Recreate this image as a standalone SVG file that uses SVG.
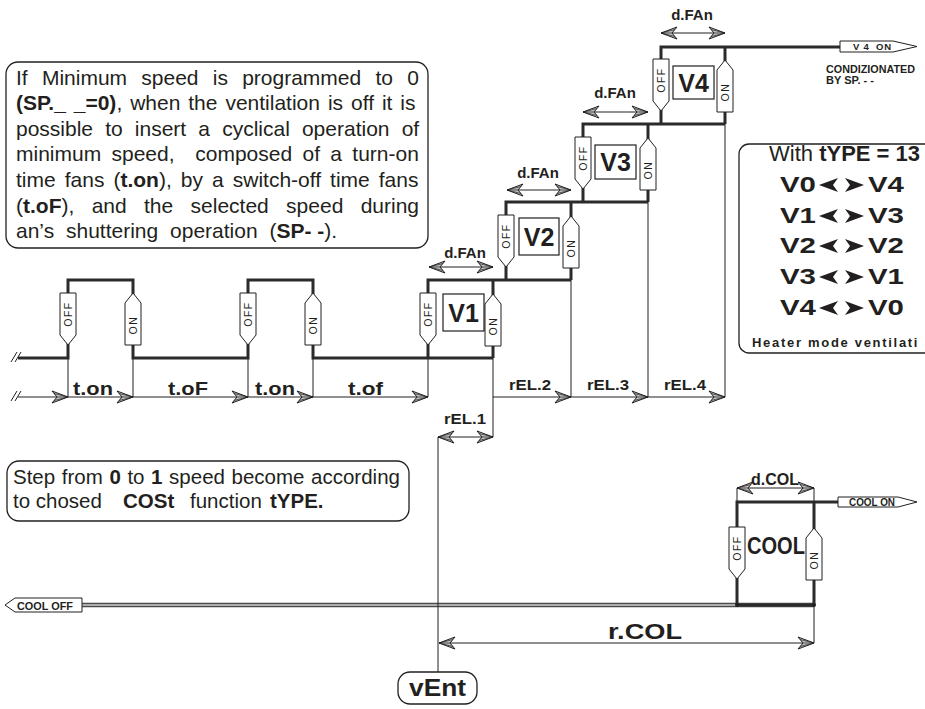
<svg xmlns="http://www.w3.org/2000/svg" xmlns:xlink="http://www.w3.org/1999/xlink" width="925" height="709" viewBox="0 0 925 709">
<style>
text{font-family:"Liberation Sans",Arial,sans-serif;fill:#231f20}
.b{font-weight:bold}
.thick{fill:none;stroke:#2b2b2b;stroke-width:3;stroke-linejoin:miter}
.thin{fill:none;stroke:#231f20;stroke-width:1}
.arr{fill:none;stroke:#231f20;stroke-width:1;marker-end:url(#ah)}
.darr{fill:none;stroke:#231f20;stroke-width:1;marker-end:url(#ah);marker-start:url(#ah)}
.box{fill:#fff;stroke:#231f20;stroke-width:1.3}
.vbox{fill:#fff;stroke:#231f20;stroke-width:1.2}
.ct{font-size:10.5px;letter-spacing:1.5px}
.lab{font-weight:bold;font-size:15px}
</style>
<defs>
<marker id="ah" markerUnits="userSpaceOnUse" markerWidth="18" markerHeight="14" viewBox="0 0 18 14" refX="17" refY="7" orient="auto-start-reverse">
<path d="M17,7 L1,1 L6,7 L1,13 Z" fill="#c4c4c4" stroke="#231f20" stroke-width="1"/>
<path d="M3,3.5 L17,7 L3,10.5 M6,7 H17" fill="none" stroke="#231f20" stroke-width="0.7"/>
</marker>
<g id="off">
<path d="M-8,0 H8 V42 L0,52 L-8,42 Z" fill="#fff" stroke="#231f20" stroke-width="1"/>
<text class="ct" transform="translate(0,21) rotate(-90)" text-anchor="middle" dy="3.8">OFF</text>
</g>
<g id="on">
<path d="M0,0 L8,10 V52 H-8 V10 Z" fill="#fff" stroke="#231f20" stroke-width="1"/>
<text class="ct" transform="translate(0,32) rotate(-90)" text-anchor="middle" dy="3.8">ON</text>
</g>
</defs>
<rect width="925" height="709" fill="#fff"/>

<g id="connectors">
<path class="thin" d="M11,362 L17,352 M15,362 L21,352 M11,401 L17,391 M15,401 L21,391"/>
<path class="thick" d="M18,358 H68 V280 H133 V358 H248 V280 H313 V358 H493"/>
<path class="thick" d="M428,358 V280 H571"/>
<path class="thick" d="M493,280 V358"/>
<path class="thick" d="M506,280 V202 H648"/>
<path class="thick" d="M571,202 V280"/>
<path class="thick" d="M583,202 V124 H725"/>
<path class="thick" d="M648,124 V202"/>
<path class="thick" d="M661,124 V47 H840"/>
<path class="thick" d="M725,47 V124"/>
<path d="M82,605 H814" fill="none" stroke="#4a4a4a" stroke-width="4.5"/>
<path d="M82,605 H737" fill="none" stroke="#cfcfcf" stroke-width="1.4"/>
<path class="thick" d="M737,605 V502 H838"/>
<path class="thick" d="M814,502 V605 M737,605 H814"/>
<path class="thin" d="M68,358 V397 M133,358 V397 M248,358 V397 M313,358 V397 M428,358 V397"/>
<path class="thin" d="M493,358 V437 M571,280 V397 M648,202 V397 M725,124 V397"/>
<path class="thin" d="M438,437 V672 M814,605 V643 M737,488 V502 M814,488 V502"/>
<path class="arr" d="M18,397 H68"/>
<path class="arr" d="M68,397 H133"/>
<path class="arr" d="M133,397 H248"/>
<path class="arr" d="M248,397 H313"/>
<path class="arr" d="M313,397 H428"/>
<path class="arr" d="M493,397 H571"/>
<path class="arr" d="M571,397 H648"/>
<path class="arr" d="M648,397 H725"/>
<path class="darr" d="M438,437 H493"/>
<path class="darr" d="M429,267 H493"/>
<path class="darr" d="M507,190 H571"/>
<path class="darr" d="M583,112 H648"/>
<path class="darr" d="M661,33 H725"/>
<path class="darr" d="M737,488 H814"/>
<path class="darr" d="M439,643 H814"/>
<circle cx="737" cy="605" r="2" fill="#231f20"/>
<circle cx="814" cy="605" r="2" fill="#231f20"/>
</g>

<g id="info-box">
<rect class="box" x="6" y="62" width="422" height="186" rx="12"/>
<text x="16" y="84.5" font-size="21" word-spacing="8.4">If Minimum speed is programmed to 0</text>
<text x="16" y="110" font-size="21" word-spacing="2.1"><tspan class="b">(SP._ _=0)</tspan>, when the ventilation is off it is</text>
<text x="16" y="135.7" font-size="21" word-spacing="6.3">possible to insert a cyclical operation of</text>
<text x="16" y="161.3" font-size="21" word-spacing="4.5" xml:space="preserve">minimum speed,  composed of a turn-on</text>
<text x="16" y="186.9" font-size="21" word-spacing="3.2">time fans (<tspan class="b">t.on</tspan>), by a switch-off time fans</text>
<text x="16" y="212.5" font-size="21" word-spacing="11.5">(<tspan class="b">t.oF</tspan>), and the selected speed during</text>
<text x="16" y="238" font-size="21" word-spacing="6">an’s shuttering operation (<tspan class="b" word-spacing="0">SP- -</tspan>).</text>
</g>

<g id="type-box">
<rect class="box" x="739" y="144" width="200" height="209" rx="10"/>
<text x="769" y="161" font-size="22">With <tspan class="b">tYPE = 13</tspan></text>
<g class="b" font-size="22">
<text x="780" y="192" textLength="36" lengthAdjust="spacingAndGlyphs">V0</text>
<text x="868" y="192" textLength="36" lengthAdjust="spacingAndGlyphs">V4</text>
<text x="780" y="223" textLength="36" lengthAdjust="spacingAndGlyphs">V1</text>
<text x="868" y="223" textLength="36" lengthAdjust="spacingAndGlyphs">V3</text>
<text x="780" y="253" textLength="36" lengthAdjust="spacingAndGlyphs">V2</text>
<text x="868" y="253" textLength="36" lengthAdjust="spacingAndGlyphs">V2</text>
<text x="780" y="284" textLength="36" lengthAdjust="spacingAndGlyphs">V3</text>
<text x="868" y="284" textLength="36" lengthAdjust="spacingAndGlyphs">V1</text>
<text x="780" y="315" textLength="36" lengthAdjust="spacingAndGlyphs">V4</text>
<text x="868" y="315" textLength="36" lengthAdjust="spacingAndGlyphs">V0</text>
</g>
<g fill="#231f20">
<path d="M819,185 L838,178 L833,185 L838,192 Z M864,185 L845,178 L850,185 L845,192 Z"/>
<path d="M819,216 L838,209 L833,216 L838,223 Z M864,216 L845,209 L850,216 L845,223 Z"/>
<path d="M819,246 L838,239 L833,246 L838,253 Z M864,246 L845,239 L850,246 L845,253 Z"/>
<path d="M819,277 L838,270 L833,277 L838,284 Z M864,277 L845,270 L850,277 L845,284 Z"/>
<path d="M819,308 L838,301 L833,308 L838,315 Z M864,308 L845,301 L850,308 L845,315 Z"/>
</g>
<text class="b" x="752" y="347" font-size="13" letter-spacing="1.7">Heater mode ventilati</text>
</g>

<g id="step-box">
<rect class="box" x="7" y="461" width="402" height="60" rx="12"/>
<text x="13" y="484" font-size="20.5" word-spacing="0.9">Step from <tspan class="b">0</tspan> to <tspan class="b">1</tspan> speed become according</text>
<text y="508" font-size="20.5"><tspan x="13">to chosed</tspan><tspan x="123" class="b">COSt</tspan><tspan x="190">function</tspan><tspan x="270" class="b">tYPE.</tspan></text>
</g>

<g id="cycle-contacts">
<use href="#off" x="68" y="293"/>
<use href="#on" x="133" y="293"/>
<use href="#off" x="248" y="293"/>
<use href="#on" x="313" y="293"/>
</g>

<g id="timing-labels" class="b" font-size="19">
<text x="73" y="394.5" textLength="40" lengthAdjust="spacingAndGlyphs">t.on</text>
<text x="168" y="394.5" textLength="40" lengthAdjust="spacingAndGlyphs">t.oF</text>
<text x="255" y="394.5" textLength="40" lengthAdjust="spacingAndGlyphs">t.on</text>
<text x="348" y="394.5" textLength="35" lengthAdjust="spacingAndGlyphs">t.of</text>
</g>

<g id="V1">
<use href="#off" x="428" y="293"/>
<use href="#on" x="493" y="294"/>
<rect class="vbox" x="443" y="294" width="41" height="37"/>
<text class="b" x="463.5" y="322" font-size="25" text-anchor="middle">V1</text>
<text class="lab" x="465" y="258" text-anchor="middle">d.FAn</text>
</g>
<g id="V2">
<use href="#off" x="506" y="215"/>
<use href="#on" x="571" y="216"/>
<rect class="vbox" x="519" y="218" width="40" height="37"/>
<text class="b" x="539" y="246" font-size="25" text-anchor="middle">V2</text>
<text class="lab" x="538" y="178" text-anchor="middle">d.FAn</text>
</g>
<g id="V3">
<use href="#off" x="583" y="137"/>
<use href="#on" x="648" y="138"/>
<rect class="vbox" x="595" y="145" width="41" height="34"/>
<text class="b" x="615.5" y="171" font-size="25" text-anchor="middle">V3</text>
<text class="lab" x="615" y="98" text-anchor="middle">d.FAn</text>
</g>
<g id="V4">
<use href="#off" x="661" y="59"/>
<use href="#on" x="725" y="60"/>
<rect class="vbox" x="673" y="66" width="41" height="33"/>
<text class="b" x="693.5" y="91.5" font-size="25" text-anchor="middle">V4</text>
<text class="lab" x="692" y="20" text-anchor="middle">d.FAn</text>
</g>
<g id="V4-on-tag">
<path d="M840,41 H893 L917,46.5 L893,52 H840 Z" fill="#fff" stroke="#231f20" stroke-width="1"/>
<text class="b" x="853" y="50" font-size="9.5" xml:space="preserve" textLength="38">V 4  ON</text>
<text class="b" x="826" y="73" font-size="11" textLength="89" lengthAdjust="spacingAndGlyphs">CONDIZIONATED</text>
<text class="b" x="826" y="84" font-size="11">BY SP. - -</text>
</g>

<g id="rel-labels" class="b" font-size="15">
<text x="465" y="424" text-anchor="middle" textLength="42" lengthAdjust="spacingAndGlyphs">rEL.1</text>
<text x="530" y="390" text-anchor="middle" textLength="42" lengthAdjust="spacingAndGlyphs">rEL.2</text>
<text x="608" y="390" text-anchor="middle" textLength="42" lengthAdjust="spacingAndGlyphs">rEL.3</text>
<text x="685" y="390" text-anchor="middle" textLength="42" lengthAdjust="spacingAndGlyphs">rEL.4</text>
</g>

<g id="COOL">
<use href="#off" x="737" y="527"/>
<use href="#on" x="814" y="528"/>
<text class="b" x="747" y="554" font-size="23" textLength="58" lengthAdjust="spacingAndGlyphs">COOL</text>
<text class="b" x="775" y="485" font-size="16" text-anchor="middle">d.COL</text>
</g>
<g id="cool-on-tag">
<path d="M838,497 H898 L917,502 L898,507 H838 Z" fill="#fff" stroke="#231f20" stroke-width="1"/>
<text class="b" x="849" y="505.5" font-size="10" textLength="46" lengthAdjust="spacingAndGlyphs">COOL ON</text>
</g>
<g id="cool-off-tag">
<path d="M5,605 L15,598 H82 V612 H15 Z" fill="#fff" stroke="#231f20" stroke-width="1"/>
<text class="b" x="17" y="609.5" font-size="10.5" textLength="56" lengthAdjust="spacingAndGlyphs">COOL OFF</text>
</g>

<g id="rCOL">
<text class="b" x="645" y="639" font-size="22" text-anchor="middle" textLength="74" lengthAdjust="spacingAndGlyphs">r.COL</text>
</g>

<g id="vEnt">
<rect class="box" x="398" y="672" width="79" height="32" rx="12"/>
<text class="b" x="437.5" y="695.5" font-size="23" text-anchor="middle" textLength="57" lengthAdjust="spacingAndGlyphs">vEnt</text>
</g>
</svg>
